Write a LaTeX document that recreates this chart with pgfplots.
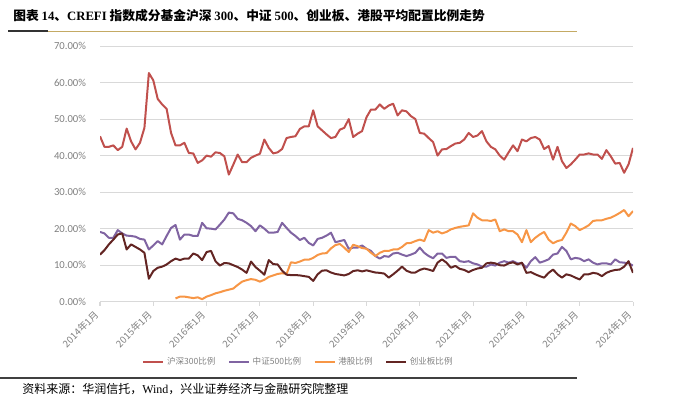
\documentclass[border=0pt]{standalone}
\usepackage{pgfplots}
\pgfplotsset{compat=1.18}
\usepackage{pgfplotstable}
\usepackage{fontspec}
\setmainfont{Carlito}
\newfontfamily\cjk{Noto Sans CJK SC}
\newfontfamily\tnr{Liberation Serif}
\definecolor{hs}{RGB}{192,80,77}
\definecolor{zz}{RGB}{128,100,162}
\definecolor{gg}{RGB}{247,150,70}
\definecolor{cyb}{RGB}{99,37,35}
\definecolor{gridc}{RGB}{217,217,217}
\definecolor{labc}{RGB}{128,128,128}
\definecolor{goldc}{RGB}{196,170,100}
\newcommand{\ym}[1]{#1年1月}

\pgfplotstableread{
m hs zz gg cyb
0 45.3 19.1 nan 12.9
1 42.4 18.7 nan 14.1
2 42.4 17.5 nan 15.7
3 42.8 17.5 nan 17.0
4 41.5 19.6 nan 18.4
5 42.4 18.7 nan 18.7
6 47.4 18.1 nan 14.3
7 43.9 18.0 nan 15.7
8 41.7 17.8 nan 15.0
9 43.5 17.2 nan 14.3
10 47.6 17.0 nan 13.4
11 62.6 14.3 nan 6.3
12 60.6 15.4 nan 8.4
13 55.5 16.6 nan 9.3
14 54.0 15.7 nan 9.6
15 52.8 18.0 nan 10.2
16 46.2 20.2 nan 11.1
17 42.8 21.0 0.9 11.8
18 42.8 17.0 1.4 11.4
19 43.5 18.4 1.4 11.8
20 40.7 18.4 1.2 11.8
21 40.6 18.0 1.0 13.2
22 38.0 18.0 1.2 12.7
23 38.7 21.6 0.7 11.4
24 40.0 20.1 1.4 13.6
25 39.7 20.0 1.8 13.9
26 40.9 19.8 2.3 11.1
27 40.7 21.1 2.6 9.9
28 39.8 22.5 3.0 10.6
29 34.8 24.4 3.3 10.5
30 37.5 24.2 3.6 10.0
31 40.3 22.7 4.6 9.5
32 38.2 22.3 5.5 8.8
33 38.2 21.6 5.9 7.9
34 39.4 20.7 6.2 11.0
35 40.0 19.3 6.0 9.5
36 40.5 20.9 5.5 8.5
37 44.4 20.0 6.0 7.4
38 42.1 18.9 6.8 11.4
39 40.6 18.9 7.2 10.3
40 40.9 19.1 7.6 10.2
41 41.8 21.6 7.8 8.5
42 44.8 20.2 7.6 7.4
43 45.1 18.9 10.8 7.3
44 45.3 18.0 10.6 7.3
45 47.3 16.9 11.0 7.2
46 48.0 17.5 11.5 7.0
47 48.0 16.1 11.5 6.8
48 52.4 15.4 12.0 5.7
49 48.0 17.2 12.8 7.5
50 46.9 17.5 13.2 8.5
51 45.8 18.1 13.3 8.6
52 44.8 18.9 14.6 8.0
53 45.1 16.3 15.5 7.6
54 47.1 16.6 15.8 7.4
55 47.6 16.9 14.8 7.2
56 50.0 14.5 13.6 7.6
57 45.1 14.8 15.6 8.4
58 46.0 14.8 15.2 8.6
59 46.7 15.4 14.7 8.3
60 50.5 14.5 14.5 8.6
61 52.6 13.9 13.4 8.3
62 52.6 12.5 12.5 8.0
63 54.0 11.8 13.4 7.9
64 52.8 12.5 13.9 7.7
65 53.7 12.3 13.9 6.6
66 54.2 13.2 14.3 7.5
67 51.0 13.4 14.3 8.5
68 52.4 12.9 15.0 9.6
69 52.1 12.5 16.0 8.5
70 50.8 12.9 16.1 8.0
71 50.0 13.4 16.6 8.0
72 46.2 14.8 17.0 8.7
73 46.0 13.4 16.6 9.1
74 44.8 12.5 19.6 8.8
75 43.7 11.9 18.9 8.4
76 40.0 13.2 19.3 10.7
77 41.7 13.2 18.7 11.6
78 41.8 12.0 19.1 10.7
79 42.6 12.3 19.8 9.3
80 43.3 12.3 20.2 9.8
81 43.5 11.1 20.5 9.0
82 44.4 10.9 20.7 8.7
83 46.2 11.1 20.9 8.1
84 45.1 10.5 24.2 8.7
85 45.5 10.2 23.0 9.1
86 46.7 9.6 22.3 9.3
87 43.9 9.6 22.3 10.5
88 42.4 10.2 22.1 10.7
89 41.7 9.9 22.5 10.5
90 40.0 10.7 19.3 10.0
91 38.9 11.1 19.8 9.9
92 40.9 10.7 19.3 10.5
93 42.8 11.1 19.3 10.8
94 41.2 10.5 18.4 10.2
95 44.4 10.5 16.3 10.7
96 43.9 9.3 19.6 7.9
97 44.8 11.1 16.3 8.1
98 45.1 12.2 17.5 7.5
99 44.4 10.7 18.4 7.0
100 41.8 11.1 19.1 6.6
101 42.6 11.6 17.0 7.9
102 38.9 12.9 16.0 8.8
103 42.4 13.2 16.6 7.5
104 38.5 15.0 16.9 6.6
105 36.6 13.9 18.9 7.5
106 37.6 11.6 21.4 7.2
107 38.9 12.0 20.7 6.6
108 40.3 11.8 19.6 6.1
109 40.3 11.1 20.2 7.5
110 40.6 11.6 20.9 7.5
111 40.3 10.7 22.1 7.9
112 40.3 10.2 22.3 7.7
113 39.1 10.5 22.3 7.0
114 41.5 10.5 22.7 7.9
115 39.8 10.2 23.0 8.4
116 37.8 11.6 23.6 8.7
117 38.0 10.8 24.3 8.8
118 35.3 10.7 25.1 9.6
119 37.6 10.5 23.4 11.1
120 42.1 9.9 24.8 7.9
}\datatable

\begin{document}
\begin{tikzpicture}
\begin{scope}[x=0.75pt,y=0.75pt]
\path[use as bounding box] (0,0) rectangle (700,402);
\node[anchor=base west, inner sep=0] at (13,381) {\cjk\bfseries\fontsize{9.55}{11}\selectfont 图表 {\tnr 14}、{\tnr CREFI} 指数成分基金沪深 {\tnr 300}、中证 {\tnr 500}、创业板、港股平均配置比例走势};
\draw[goldc, line width=0.75pt] (48,370.5) -- (577,370.5);
\draw[black!80, line width=1.5pt] (8,370.5) -- (48,370.5);
\draw[black!75, line width=1.5pt] (0,24) -- (577,24);
\node[anchor=base west, inner sep=0] at (22,8) {\cjk\fontsize{9}{11}\selectfont 资料来源：华润信托，{\tnr Wind}，兴业证券经济与金融研究院整理};
\end{scope}
\begin{axis}[
  at={(75pt,75.2pt)}, anchor=south west,
  scale only axis, width=399.75pt, height=191.8pt,
  xmin=0, xmax=120, ymin=0, ymax=70,
  axis line style={draw=none},
  ymajorgrids, grid style={gridc, line width=0.75pt},
  ytick={0,10,...,70},
  yticklabels={0.00\%,10.00\%,20.00\%,30.00\%,40.00\%,50.00\%,60.00\%,70.00\%},
  xtick={0,12,...,120},
  xticklabels={\ym{2014},\ym{2015},\ym{2016},\ym{2017},\ym{2018},\ym{2019},\ym{2020},\ym{2021},\ym{2022},\ym{2023},\ym{2024}},
  tick align=outside, major tick length=3pt,
  xtick pos=bottom,
  xtick style={gridc, line width=0.75pt},
  ytick style={draw=none},
  yticklabel style={font=\fontsize{8}{9}\selectfont, text=labc, xshift=-4pt},
  xticklabel style={font=\cjk\fontsize{7.2}{9}\selectfont, text=labc, yshift=-3pt, rotate=45, anchor=east},
  unbounded coords=jump,
  every axis plot/.append style={line width=1.5pt, line join=round},
  legend style={at={(0.373,-0.236)}, anchor=center, draw=none, fill=none,
    font=\cjk\fontsize{6.4}{7}\selectfont, text=labc,
    /tikz/every even column/.append style={column sep=7.5pt}},
  legend columns=4,
  legend image code/.code={\draw[#1] (0pt,0pt) -- (15pt,0pt);},
]
\addplot[hs] table[x=m,y=hs] {\datatable};
\addlegendentry{沪深300比例}
\addplot[zz] table[x=m,y=zz] {\datatable};
\addlegendentry{中证500比例}
\addplot[gg] table[x=m,y=gg] {\datatable};
\addlegendentry{港股比例}
\addplot[cyb] table[x=m,y=cyb] {\datatable};
\addlegendentry{创业板比例}
\end{axis}
\end{tikzpicture}
\end{document}
